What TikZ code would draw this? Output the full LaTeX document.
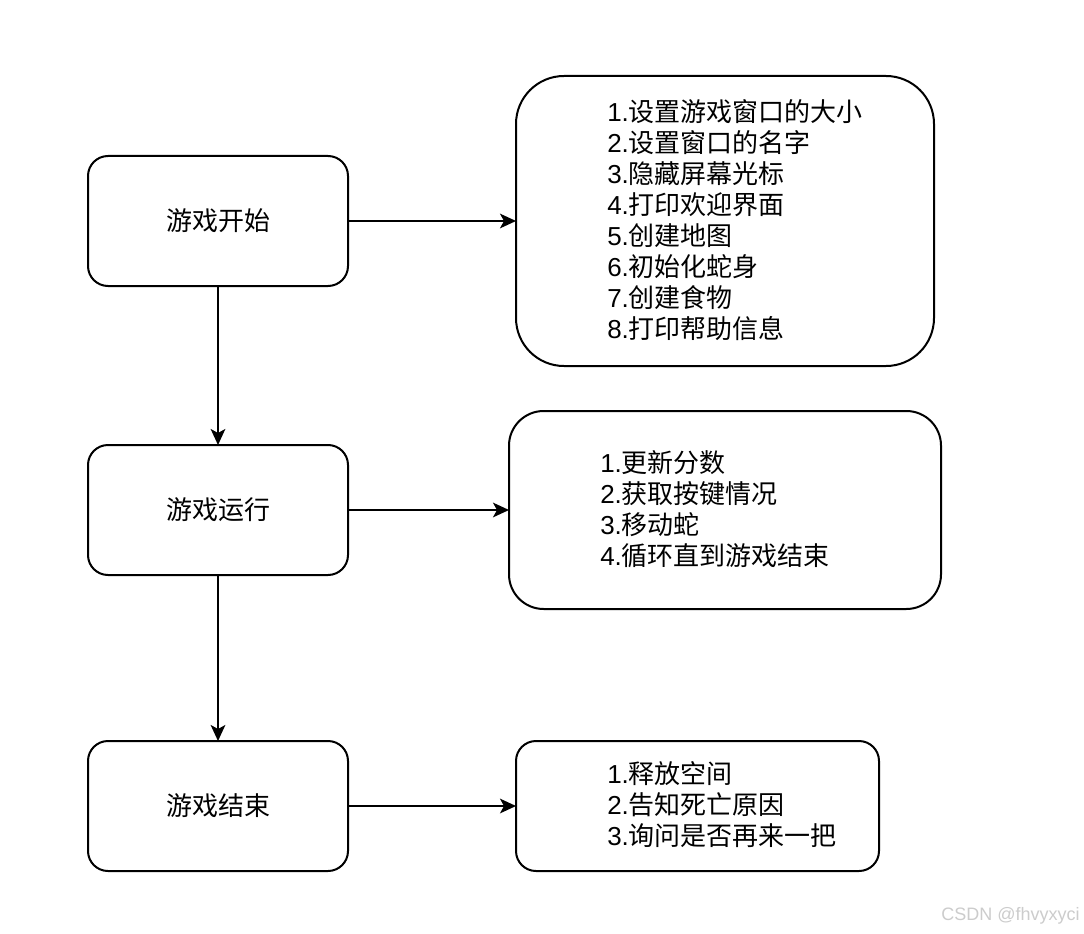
\documentclass[tikz,border=0pt]{standalone}
\usepackage{fontspec}
\setmainfont{Liberation Sans}
\newfontfamily\cjk{Noto Sans CJK SC}
\usetikzlibrary{arrows.meta}
\begin{document}
\begin{tikzpicture}[x=0.75pt,y=-0.75pt,
  box/.style={draw,line width=1.5pt,rounded corners=#1},
  arr/.style={line width=1.5pt,-{Stealth[length=12pt,width=11pt,inset=3pt]}},
  lbl/.style={font=\fontsize{19.5}{23.25}\selectfont,inner sep=0pt},
  lst/.style={font=\fontsize{19.5}{23.25}\selectfont,inner sep=0pt,align=left,anchor=west}]
\useasboundingbox[fill=white] (0,0) rectangle (1084,934);
% left boxes
\draw[box=15pt] (88,156) rectangle (348,286);
\node[lbl] (a) at (218,221) {\cjk 游戏开始};
\coordinate (aR) at (348,221);
\coordinate (aB) at (218,286);
\draw[box=15pt] (88,445) rectangle (348,575);
\node[lbl] (b) at (218,510) {\cjk 游戏运行};
\coordinate (bT) at (218,445);
\coordinate (bR) at (348,510);
\coordinate (bB) at (218,575);
\draw[box=15pt] (88,741) rectangle (348,871);
\node[lbl] (c) at (218,806) {\cjk 游戏结束};
\coordinate (cT) at (218,741);
\coordinate (cR) at (348,806);
% right boxes
\draw[box=36pt] (516,76) rectangle (934,366);
\coordinate (r1L) at (516,221);
\node[lst] (r1) at (607,220) {1.{\cjk 设置游戏窗口的大小}\\2.{\cjk 设置窗口的名字}\\3.{\cjk 隐藏屏幕光标}\\4.{\cjk 打印欢迎界面}\\5.{\cjk 创建地图}\\6.{\cjk 初始化蛇身}\\7.{\cjk 创建食物}\\8.{\cjk 打印帮助信息}};
\draw[box=26pt] (509,411) rectangle (941,609);
\coordinate (r2L) at (509,510);
\node[lst] (r2) at (600,509) {1.{\cjk 更新分数}\\2.{\cjk 获取按键情况}\\3.{\cjk 移动蛇}\\4.{\cjk 循环直到游戏结束}};
\draw[box=15pt] (516,741) rectangle (879,871);
\coordinate (r3L) at (516,806);
\node[lst] (r3) at (607,805) {1.{\cjk 释放空间}\\2.{\cjk 告知死亡原因}\\3.{\cjk 询问是否再来一把}};
% connectors
\draw[arr] (aR) -- (r1L);
\draw[arr] (bR) -- (r2L);
\draw[arr] (cR) -- (r3L);
\draw[arr] (aB) -- (bT);
\draw[arr] (bB) -- (cT);
% watermark
\node[anchor=east,inner sep=0pt,text=black!20,font=\fontsize{13.5}{15}\selectfont] (wm) at (1080,916) {CSDN @fhvyxyci};
\end{tikzpicture}
\end{document}
